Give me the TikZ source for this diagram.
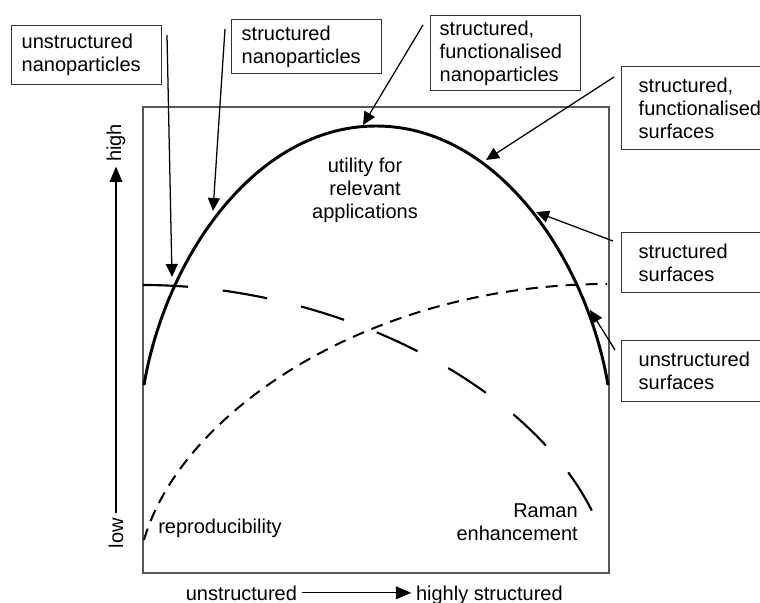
\documentclass[tikz,border=0pt]{standalone}
\usepackage{fontspec}
\setmainfont{Liberation Sans}
\usetikzlibrary{arrows.meta}
\begin{document}
\begin{tikzpicture}[x=0.75pt,y=-0.75pt,
  font=\fontsize{15}{17.25}\selectfont,
  frameline/.style={draw=black!65, line width=1.1pt},
  labelbox/.style={draw=black!80, line width=1.1pt, anchor=north west, inner ysep=0pt, align=left},
  callout/.style={draw=black, line width=0.95pt, -{Triangle[length=9.75pt,width=9pt]}},
  axisarrow/.style={draw=black, line width=0.95pt, -{Triangle[length=11.5pt,width=9.5pt]}},
  solidcurve/.style={draw=black, line width=2.2pt},
  longdash/.style={draw=black, line width=1.6pt, dash pattern=on 33.75pt off 26.25pt},
  shortdash/.style={draw=black, line width=1.5pt, dash pattern=on 9pt off 6pt},
  plainlabel/.style={inner sep=0pt}]
\useasboundingbox (0,0) rectangle (760,603);
\clip (0,0) rectangle (760,603);

% frame
\draw[frameline] (143,107) rectangle (609,573);

% curves
\draw[solidcurve] (144,385) .. controls (165,260) and (254,126) .. (376,126)
                            .. controls (498,126) and (587,260) .. (608,385);
\draw[longdash] (143,285) .. controls (350,285) and (560,400) .. (605,543);
\draw[shortdash] (144,540) .. controls (181,412) and (370,284) .. (607,284);

% inner labels
\node[plainlabel, align=center] (util) at (365,190) {utility for\\relevant\\applications};
\node[plainlabel, anchor=base west] (repro) at (158,533) {reproducibility};
\node[plainlabel, align=right, anchor=east] (raman) at (578,522.4) {Raman\\enhancement};

% boxes
\node[labelbox, minimum width=112.5pt, minimum height=44.25pt, inner xsep=7.5pt, text width=97.5pt] (b1) at (11,25) {unstructured\\nanoparticles};
\node[labelbox, minimum width=112.5pt, minimum height=40.5pt, inner xsep=7.5pt, text width=97.5pt] (b2) at (231,19) {structured\\nanoparticles};
\node[labelbox, minimum width=112.5pt, minimum height=56.25pt, inner xsep=6.75pt, text width=99pt] (b3) at (430,15) {structured,\\functionalised\\nanoparticles};
\node[labelbox, minimum width=126.75pt, minimum height=62.25pt, inner xsep=12.75pt, text width=101.25pt] (b4) at (621,66) {structured,\\functionalised\\surfaces};
\node[labelbox, minimum width=126.75pt, minimum height=45pt, inner xsep=12.75pt, text width=101.25pt] (b5) at (621,232) {structured\\surfaces};
\node[labelbox, minimum width=126.75pt, minimum height=45.75pt, inner xsep=12.75pt, text width=101.25pt] (b6) at (621,340) {unstructured\\surfaces};

% callout arrows
\coordinate (s1) at (167,35);  \coordinate (t1) at (172,277);
\coordinate (s2) at (225,29);  \coordinate (t2) at (213,211);
\coordinate (s3) at (423,25);  \coordinate (t3) at (363,125);
\coordinate (s4) at (614,77);  \coordinate (t4) at (486,160);
\coordinate (s5) at (613,241); \coordinate (t5) at (536,212);
\coordinate (s6) at (615,350); \coordinate (t6) at (590,310);
\draw[callout] (s1) -- (t1);
\draw[callout] (s2) -- (t2);
\draw[callout] (s3) -- (t3);
\draw[callout] (s4) -- (t4);
\draw[callout] (s5) -- (t5);
\draw[callout] (s6) -- (t6);

% axes
\node[rotate=90] (hi) at (116,143) {high};
\node[rotate=90] (lo) at (116,533) {low};
\draw[axisarrow] (lo.east) -- (hi.west);
\node[anchor=base east] (ux) at (301.7,600) {unstructured};
\node[anchor=base west] (hx) at (411.3,600) {highly structured};
\draw[axisarrow] (ux.east) -- (ux.east -| hx.west);
\end{tikzpicture}
\end{document}
